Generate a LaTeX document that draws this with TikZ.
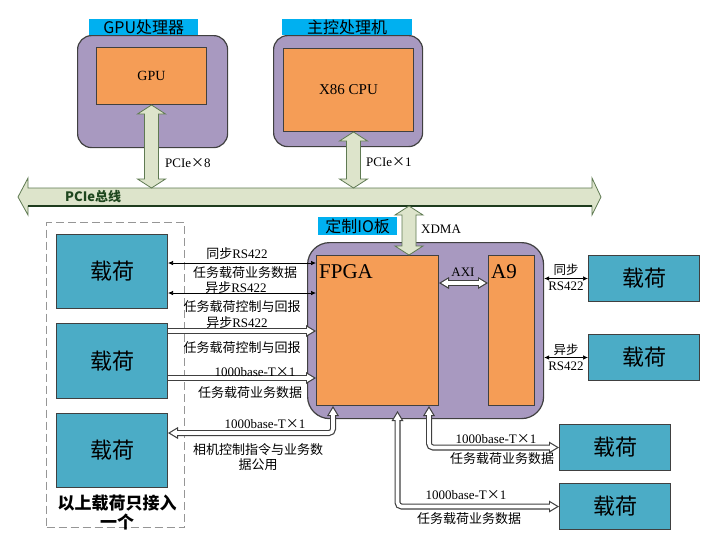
\documentclass[tikz,border=0pt]{standalone}
\usepackage{fontspec}
\setmainfont{Liberation Serif}
\newfontfamily\cjk{Noto Sans CJK SC}
\usetikzlibrary{calc,arrows.meta}
\newcommand\setfs[1]{\fontsize{#1pt}{#1pt}\selectfont}
\newcommand\zh[1]{{\cjk #1}}
\definecolor{purp}{RGB}{168,153,192}
\definecolor{orng}{RGB}{245,157,86}
\definecolor{tealbox}{RGB}{75,172,198}
\definecolor{cyanl}{RGB}{0,176,240}
\definecolor{busfill}{RGB}{221,228,203}
\definecolor{busline}{RGB}{95,122,82}
\definecolor{busdark}{RGB}{30,60,30}
\definecolor{edge}{RGB}{64,64,64}
\definecolor{bustext}{RGB}{30,70,30}
\definecolor{dashc}{RGB}{150,150,150}
\tikzset{
 Hout/.tip={Triangle[length=10pt,width=12pt,line width=0pt]},
 Hin/.tip={Triangle[length=6.5pt,width=7.8pt,line width=0pt]},
}
\newcommand\vfat[2]{\draw[fat] (#1) -- ($(#1)+(14,9)$) -- ($(#1)+(7,9)$) -- ($(#2)+(7,-9)$) -- ($(#2)+(14,-9)$) -- (#2) -- ($(#2)+(-14,-9)$) -- ($(#2)+(-7,-9)$) -- ($(#1)+(-7,9)$) -- ($(#1)+(-14,9)$) -- cycle;}
\newcommand\hollowR[1]{\draw[hout,-Hout] #1; \draw[hin,-Hin,shorten >=2.3pt] #1;}
\newcommand\hollowB[1]{\draw[hout,Hout-Hout] #1; \draw[hin,Hin-Hin,shorten >=2.3pt,shorten <=2.3pt] #1;}
\begin{document}
\begin{tikzpicture}[x=1pt,y=-1pt,
 outer/.style={draw=edge, line width=1.2pt, fill=purp, rounded corners=14pt},
 chip/.style={draw=edge, line width=1pt, fill=orng},
 tag/.style={fill=cyanl, inner sep=0pt, font=\cjk\setfs{16}},
 load/.style={draw=edge, line width=1pt, fill=tealbox, minimum width=111pt, minimum height=46pt, font=\cjk\setfs{22}},
 lbl/.style={inner sep=0pt, font=\setfs{13}},
 fat/.style={draw=busline, line width=0.8pt, fill=busfill, line join=miter},
 thin/.style={draw=black, line width=0.7pt, {Latex[length=5pt,width=4.5pt]}-{Latex[length=5pt,width=4.5pt]}},
 hout/.style={draw=edge, line width=6pt, rounded corners=4pt},
 hin/.style={draw=white, line width=3.6pt, rounded corners=4pt},
]
\useasboundingbox[fill=white] (0,0) rectangle (718,550);

% top processors
\node[outer, minimum width=150pt, minimum height=112pt, anchor=north west] (gpuo) at (77,35) {};
\node[tag, minimum width=109pt, minimum height=16pt, anchor=north west] (gputag) at (89,19) {GPU处理器};
\node[chip, minimum width=110pt, minimum height=57pt, anchor=north west, font=\setfs{14}] (gpu) at (96,47) {GPU};
\node[outer, minimum width=149pt, minimum height=111pt, anchor=north west] (hosto) at (273,35) {};
\node[tag, minimum width=130pt, minimum height=16pt, anchor=north west] (hosttag) at (282,19) {主控处理机};
\node[chip, minimum width=130pt, minimum height=83pt, anchor=north west, font=\setfs{15}] (cpu) at (283,48) {X86 CPU};

% bus
\coordinate (busL) at (18,197);
\coordinate (busR) at (601,197);
\coordinate (busT) at (0,188);
\coordinate (busB) at (0,206);
\draw[fat] (busL) -- ($(busL)+(10,-19)$) -- ($(busL)+(10,-9)$) -- ($(busR)+(-9,-9)$) -- ($(busR)+(-9,-19)$) -- (busR) -- ($(busR)+(-9,18)$) -- ($(busR)+(-9,9)$) -- ($(busL)+(10,9)$) -- ($(busL)+(10,18)$) -- cycle;
\draw[busdark, line width=1.2pt] ($(busL)+(10,9)$) -- ($(busR)+(-9,9)$);
\node[font=\cjk\bfseries\setfs{13}, text=bustext, anchor=west, inner sep=0pt] (bustxt) at (65,197) {PCIe总线};

\coordinate (g1) at (gpu.south);
\coordinate (g2) at (gpu.south |- busT);
\vfat{g1}{g2}
\coordinate (c1) at ($(cpu.south)+(5,0)$);
\coordinate (c2) at (c1 |- busT);
\vfat{c1}{c2}
\node[lbl, anchor=west] (pcie8) at (165,163) {PCIe\zh{×}8};
\node[lbl, anchor=west] (pcie1) at (366,162) {PCIe\zh{×}1};

% IO board
\node[outer, rounded corners=22pt, minimum width=236pt, minimum height=176pt, anchor=north west] (io) at (307,242) {};
\node[tag, minimum width=79pt, minimum height=18pt, anchor=north west] (iotag) at (318,217) {定制IO板};
\node[chip, minimum width=122pt, minimum height=150pt, anchor=north west] (fpga) at (316,255) {};
\node[font=\setfs{21}, anchor=west, inner sep=0pt] (fpgat) at (319,272) {FPGA};
\node[chip, minimum width=46pt, minimum height=150pt, anchor=north west] (a9) at (488,255) {};
\node[font=\setfs{21}, anchor=west, inner sep=0pt] (a9t) at (491,272) {A9};

\coordinate (x1) at ($(fpga.north east)+(-30,0)$);
\coordinate (x0) at (x1 |- busB);
\vfat{x0}{x1}
\node[lbl, anchor=west] (xdma) at (421,229) {XDMA};

\coordinate (axiy) at (0,283);
\hollowB{(fpga.east |- axiy) -- (a9.west |- axiy)}
\node[lbl] (axi) at (463,272) {AXI};

% right payloads
\node[load, anchor=north west] (rp1) at (588,255) {载荷};
\node[load, anchor=north west] (rp2) at (588,334) {载荷};
\draw[thin] (io.east |- rp1.west) -- (rp1.west);
\draw[thin] (io.east |- rp2.west) -- (rp2.west);
\node[lbl, font=\cjk\setfs{12.5}] at (566,270) {同步};
\node[lbl] at (566,286) {RS422};
\node[lbl, font=\cjk\setfs{12.5}] at (566,350) {异步};
\node[lbl] at (566,366) {RS422};

% left group
\node[draw=dashc, dash pattern=on 8pt off 4pt, line width=1.4pt, minimum width=138pt, minimum height=305pt, anchor=north west] (grp) at (46,222) {};
\node[load, minimum height=74pt, anchor=north west] (lp1) at (56,234) {载荷};
\node[load, minimum height=75pt, anchor=north west] (lp2) at (56,323) {载荷};
\node[load, minimum height=74pt, anchor=north west] (lp3) at (56,413) {载荷};
\node[font=\cjk\bfseries\fontsize{17pt}{19pt}\selectfont, align=center, inner sep=0pt] (note) at (117,512) {以上载荷只接入\\一个};

% bottom payloads
\node[load, anchor=north west] (bp1) at (559,424) {载荷};
\node[load, anchor=north west] (bp2) at (559,483) {载荷};

% left connectors
\coordinate (l1) at ($(lp1.north east)+(0,29)$);
\coordinate (l2) at ($(lp1.north east)+(0,59)$);
\coordinate (l3) at ($(lp2.north east)+(0,8)$);
\coordinate (l4) at ($(lp2.north east)+(0,55)$);
\draw[thin] (l1) -- (l1 -| fpga.west);
\draw[thin] (l2) -- (l2 -| fpga.west);
\hollowR{(l3) -- (l3 -| fpga.west)}
\hollowR{(l4) -- (l4 -| fpga.west)}
\node[lbl] at (237,254) {\zh{同步}RS422};
\node[lbl, font=\cjk\setfs{13}] at (245,273) {任务载荷业务数据};
\node[lbl] at (236,288) {\zh{异步}RS422};
\node[lbl, font=\cjk\setfs{13}] at (242,307) {任务载荷控制与回报};
\node[lbl] at (237,323) {\zh{异步}RS422};
\node[lbl, font=\cjk\setfs{13}] at (242,348) {任务载荷控制与回报};
\node[lbl] at (255,372) {1000base-T\zh{×}1};
\node[lbl, font=\cjk\setfs{13}] at (250,393) {任务载荷业务数据};

% bottom connectors
\coordinate (f1) at ($(fpga.south east)+(-10,0)$);
\coordinate (f2) at ($(fpga.south)+(20,5)$);
\coordinate (f3) at ($(fpga.south west)+(17,0)$);
\coordinate (lp3a) at ($(lp3.north east)+(0,20)$);
\hollowB{(f1) |- (bp1.west)}
\hollowB{(f2) |- (bp2.west)}
\hollowB{(f3) |- (lp3a)}
\node[lbl] at (265,424) {1000base-T\zh{×}1};
\node[lbl, font=\cjk\fontsize{13pt}{15pt}\selectfont, align=center] at (258,457) {相机控制指令与业务数\\据公用};
\node[lbl] at (496,439) {1000base-T\zh{×}1};
\node[lbl, font=\cjk\setfs{13}] at (502,459) {任务载荷业务数据};
\node[lbl] at (466,495) {1000base-T\zh{×}1};
\node[lbl, font=\cjk\setfs{13}] at (469,519) {任务载荷业务数据};
\end{tikzpicture}
\end{document}
